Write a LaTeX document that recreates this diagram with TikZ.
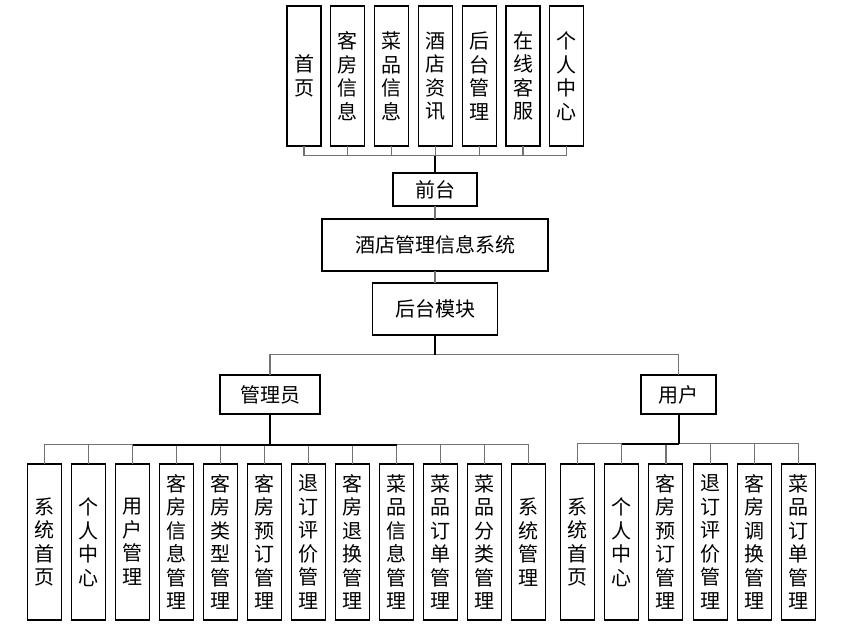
\documentclass[tikz,border=0pt]{standalone}
\usepackage{fontspec}
\setmainfont{Noto Sans CJK SC}
\usetikzlibrary{positioning}

\begin{document}
\begin{tikzpicture}[
    x=1pt, y=-1pt,
    every node/.style={font=\fontsize{20}{23.5}\selectfont, outer sep=0pt},
    vbox/.style={rectangle, draw=black, line width=1.1pt, minimum width=34pt, text width=22pt, align=center, inner sep=0pt},
    topbox/.style={vbox, minimum height=140pt},
    leafbox/.style={vbox, minimum height=156pt},
    hbox/.style={rectangle, draw=black, line width=1.1pt, align=center, inner sep=0pt},
    link/.style={draw=black!55, line width=1.2pt},
    trunk/.style={draw=black, line width=2pt}
]
\useasboundingbox (0,0) rectangle (855,627);

% Bus heights
\coordinate (busF) at (0,155.7);
\coordinate (busM) at (0,354.7);
\coordinate (busA) at (0,444.5);
\coordinate (busU) at (0,443.5);

% Front end
\node[topbox] (shouye) at (304,76) {首\\页};
\node[topbox, right=9.8pt of shouye] (kfxinxi) {客\\房\\信\\息};
\node[topbox, right=9.8pt of kfxinxi] (cpxinxi) {菜\\品\\信\\息};
\node[topbox, right=9.8pt of cpxinxi] (zixun) {酒\\店\\资\\讯};
\node[topbox, right=9.8pt of zixun] (htguanli) {后\\台\\管\\理};
\node[topbox, right=9.8pt of htguanli] (kefu) {在\\线\\客\\服};
\node[topbox, right=9.8pt of kefu] (geren) {个\\人\\中\\心};

% Main column
\node[hbox, minimum width=84pt, minimum height=33pt] (qiantai) at (435,189.5) {前台};
\node[hbox, minimum width=226pt, minimum height=52pt] (sys) at (435,245) {酒店管理信息系统};
\node[hbox, minimum width=125pt, minimum height=52pt] (houtai) at (435,309) {后台模块};
\node[hbox, minimum width=100pt, minimum height=39pt] (admin) at (270,394.5) {管理员};
\node[hbox, minimum width=75pt, minimum height=39pt] (user) at (678.5,394.5) {用户};

% Admin modules
\node[leafbox] (a1) at (44.7,542) {系\\统\\首\\页};
\node[leafbox, right=10pt of a1] (a2) {个\\人\\中\\心};
\node[leafbox, right=10pt of a2] (a3) {用\\户\\管\\理};
\node[leafbox, right=10pt of a3] (a4) {客\\房\\信\\息\\管\\理};
\node[leafbox, right=10pt of a4] (a5) {客\\房\\类\\型\\管\\理};
\node[leafbox, right=10pt of a5] (a6) {客\\房\\预\\订\\管\\理};
\node[leafbox, right=10pt of a6] (a7) {退\\订\\评\\价\\管\\理};
\node[leafbox, right=10pt of a7] (a8) {客\\房\\退\\换\\管\\理};
\node[leafbox, right=10pt of a8] (a9) {菜\\品\\信\\息\\管\\理};
\node[leafbox, right=10pt of a9] (a10) {菜\\品\\订\\单\\管\\理};
\node[leafbox, right=10pt of a10] (a11) {菜\\品\\分\\类\\管\\理};
\node[leafbox, right=10pt of a11] (a12) {系\\统\\管\\理};

% User modules
\node[leafbox] (u1) at (577.5,542) {系\\统\\首\\页};
\node[leafbox, right=10.2pt of u1] (u2) {个\\人\\中\\心};
\node[leafbox, right=10.2pt of u2] (u3) {客\\房\\预\\订\\管\\理};
\node[leafbox, right=10.2pt of u3] (u4) {退\\订\\评\\价\\管\\理};
\node[leafbox, right=10.2pt of u4] (u5) {客\\房\\调\\换\\管\\理};
\node[leafbox, right=10.2pt of u5] (u6) {菜\\品\\订\\单\\管\\理};

% Front end links
\draw[link] (shouye.south) -- (shouye.south |- busF) -| (qiantai.north);
\draw[link] (kfxinxi.south) -- (kfxinxi.south |- busF) -| (qiantai.north);
\draw[link] (cpxinxi.south) -- (cpxinxi.south |- busF) -| (qiantai.north);
\draw[link] (zixun.south) -- (zixun.south |- busF) -| (qiantai.north);
\draw[link] (htguanli.south) -- (htguanli.south |- busF) -| (qiantai.north);
\draw[link] (kefu.south) -- (kefu.south |- busF) -| (qiantai.north);
\draw[link] (geren.south) -- (geren.south |- busF) -| (qiantai.north);
\draw[trunk] (qiantai.north) -- (qiantai.north |- busF);

% Main column links
\draw[link] (qiantai) -- (sys);
\draw[link] (sys) -- (houtai);
\draw[link] (houtai.south) -- (houtai.south |- busM) -| (admin.north);
\draw[link] (houtai.south) -- (houtai.south |- busM) -| (user.north);
\draw[trunk] (houtai.south) -- (houtai.south |- busM);

% Admin links
\draw[link] (admin.south) -- (admin.south |- busA) -| (a1.north);
\draw[link] (admin.south) -- (admin.south |- busA) -| (a2.north);
\draw[link] (admin.south) -- (admin.south |- busA) -| (a3.north);
\draw[link] (admin.south) -- (admin.south |- busA) -| (a4.north);
\draw[link] (admin.south) -- (admin.south |- busA) -| (a5.north);
\draw[link] (admin.south) -- (admin.south |- busA) -| (a6.north);
\draw[link] (admin.south) -- (admin.south |- busA) -| (a7.north);
\draw[link] (admin.south) -- (admin.south |- busA) -| (a8.north);
\draw[link] (admin.south) -- (admin.south |- busA) -| (a9.north);
\draw[link] (admin.south) -- (admin.south |- busA) -| (a10.north);
\draw[link] (admin.south) -- (admin.south |- busA) -| (a11.north);
\draw[link] (admin.south) -- (admin.south |- busA) -| (a12.north);
\draw[trunk] (admin.south) -- (admin.south |- busA);
\draw[trunk] (a3.north |- busA) -- (a9.north |- busA);

% User links
\draw[link] (user.south) -- (user.south |- busU) -| (u1.north);
\draw[link] (user.south) -- (user.south |- busU) -| (u2.north);
\draw[link] (user.south) -- (user.south |- busU) -| (u3.north);
\draw[link] (user.south) -- (user.south |- busU) -| (u4.north);
\draw[link] (user.south) -- (user.south |- busU) -| (u5.north);
\draw[link] (user.south) -- (user.south |- busU) -| (u6.north);
\draw[trunk] (user.south) -- (user.south |- busU);
\draw[trunk] (u2.north |- busU) -- (user.south |- busU);

\end{tikzpicture}
\end{document}
